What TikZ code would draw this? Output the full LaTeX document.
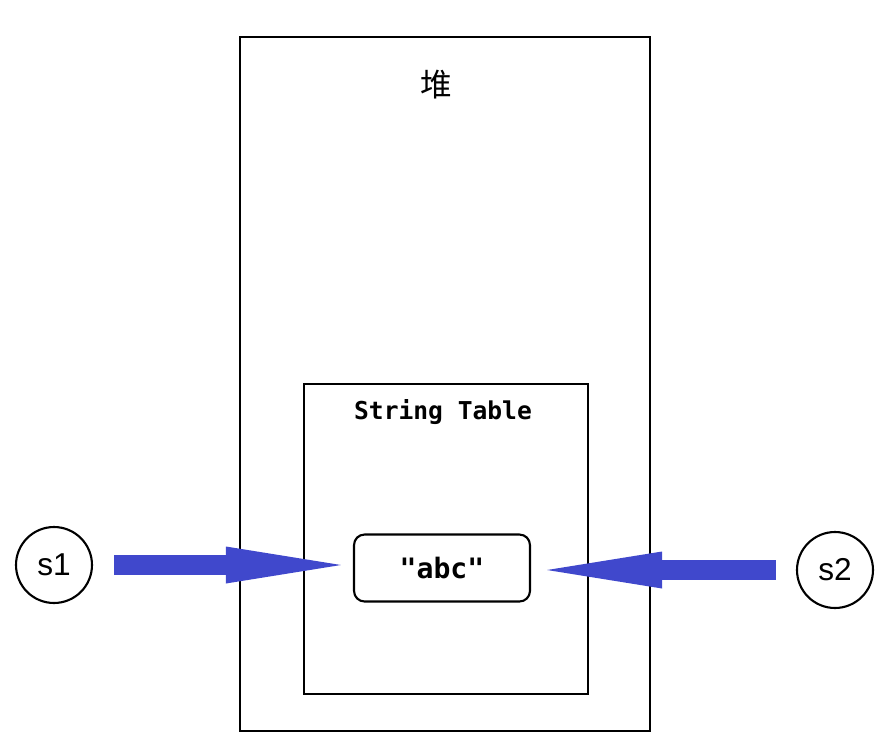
\documentclass[tikz,border=0pt]{standalone}
\usepackage{fontspec}
\setsansfont{Liberation Sans}
\setmonofont{DejaVu Sans Mono}
\newfontfamily\cjk{Noto Sans CJK SC}
\usetikzlibrary{arrows.meta}
\definecolor{ptrblue}{RGB}{64,72,204}
\begin{document}
\begin{tikzpicture}[x=0.02cm,y=-0.02cm,
  box/.style={draw,line width=1.6pt,inner sep=0pt},
  var/.style={draw,circle,line width=1.2pt,minimum size=1.52cm,inner sep=0pt,font=\sffamily\fontsize{18}{18}\selectfont},
  ptr/.style={draw=ptrblue,line width=0.4cm,-{Triangle[length=2.3cm,width=0.74cm,line width=0pt]},ptrblue}]
\useasboundingbox (0,0) rectangle (887,755);
\node[box,minimum width=8.2cm,minimum height=13.88cm] (heap) at (445,384) {};
\node[font=\cjk\fontsize{18}{18}\selectfont] (heaplbl) at (436,85) {堆};
\node[box,minimum width=5.68cm,minimum height=6.2cm] (strtab) at (446,539) {};
\node[font=\ttfamily\bfseries\fontsize{14}{14}\selectfont] (tablbl) at (443,412) {String Table};
\node[draw,line width=1.2pt,rounded corners=6pt,minimum width=3.52cm,minimum height=1.34cm,font=\ttfamily\bfseries\fontsize{16}{16}\selectfont] (abc) at (442,568) {"abc"};
\node[var] (s1) at (54,565) {s1};
\node[var] (s2) at (835,570) {s2};
\draw[ptr,shorten <=0.42cm,shorten >=0.24cm] (s1.east) -- (s1.east -| abc.west);
\draw[ptr,shorten <=0.4cm,shorten >=0.32cm] (s2.west) -- (s2.west -| abc.east);
\end{tikzpicture}
\end{document}
